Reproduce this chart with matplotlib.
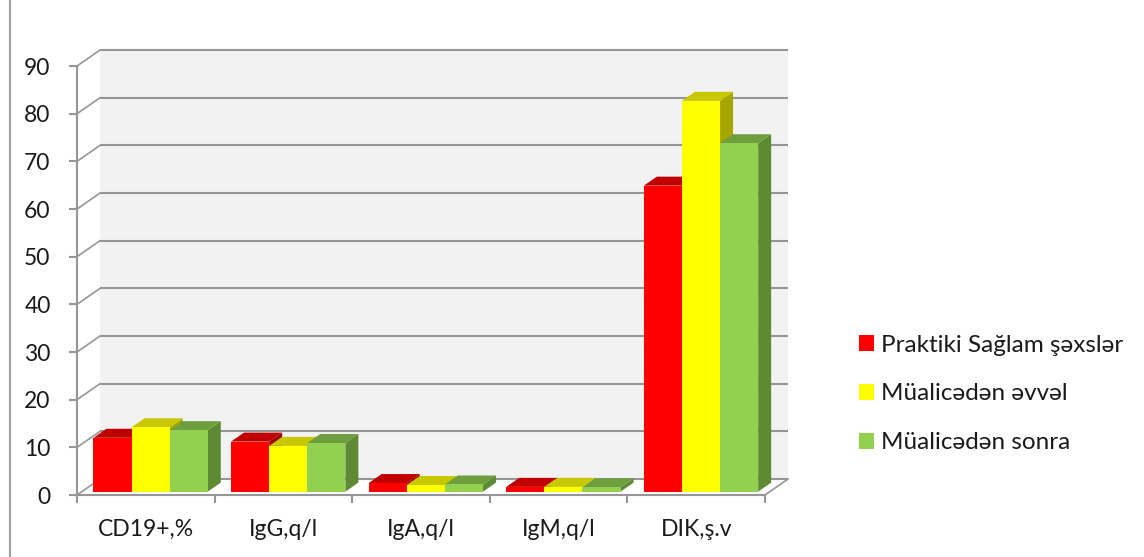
import matplotlib
matplotlib.use("Agg")
import matplotlib.pyplot as plt
from matplotlib.patches import Polygon, Patch
from matplotlib.lines import Line2D
import numpy as np

plt.rcParams['font.family'] = ['Lato', 'DejaVu Sans']

categories = ['CD19+,%', 'IgG,q/l', 'IgA,q/l', 'IgM,q/l', 'DIK,ş.v']
series_names = ['Praktiki Sağlam şəxslər', 'Müalicədən əvvəl', 'Müalicədən sonra']
healthy = [11.3, 10.5, 1.8, 1.0, 64.2]
before = [13.5, 9.6, 1.4, 1.0, 82.0]
after = [12.9, 10.2, 1.5, 0.9, 73.1]
yticks = list(range(0, 100, 10))

# front, top and side shades for each series
shades = [('#ff0000', '#c00000', '#a00000'),
          ('#ffff00', '#c8c800', '#a6a600'),
          ('#92d050', '#6e9e3e', '#5e8a33')]

# depth of the 3d box in data units (x, y)
DX, DY = 0.167, 3.35
bar_w = 0.277
gap = (1 - 3 * bar_w) / 2
d_front, d_back = 0.21, 0.775   # bar depth as fraction of floor depth
grid_c = '#969696'

fig = plt.figure(figsize=(11.44, 5.57), dpi=100)
W, H = 1144, 557
ax = fig.add_axes([77 / W, 62 / H, 715.5 / W, 448 / H])
ax.set_xlim(0, 5.2)
ax.set_ylim(0, 94)

# back wall and side wall grid
ax.add_patch(Polygon([(DX, DY), (5 + DX, DY), (5 + DX, 90 + DY), (DX, 90 + DY)],
                     closed=True, facecolor='#f2f2f2', edgecolor='none', zorder=0))
for t in yticks:
    ax.plot([DX, 5 + DX], [t + DY, t + DY], color=grid_c, lw=1.5, zorder=1,
            solid_capstyle='butt')
    ax.plot([0, DX], [t, t + DY], color=grid_c, lw=1.2, zorder=1)
# floor right edge
ax.plot([5, 5 + DX], [0, DY], color=grid_c, lw=1.2, zorder=1)

def draw_bar(x0, h, cols):
    fx, fy = d_front * DX, d_front * DY
    bx, by = d_back * DX, d_back * DY
    x1 = x0 + bar_w
    side = [(x1 + fx, fy), (x1 + bx, by), (x1 + bx, h + by), (x1 + fx, h + fy)]
    top = [(x0 + fx, h + fy), (x1 + fx, h + fy), (x1 + bx, h + by), (x0 + bx, h + by)]
    front = [(x0 + fx, fy), (x1 + fx, fy), (x1 + fx, h + fy), (x0 + fx, h + fy)]
    ax.add_patch(Polygon(side, closed=True, facecolor=cols[2], edgecolor='none', zorder=3))
    ax.add_patch(Polygon(top, closed=True, facecolor=cols[1], edgecolor='none', zorder=3))
    ax.add_patch(Polygon(front, closed=True, facecolor=cols[0], edgecolor='none', zorder=3))

series = [healthy, before, after]
for i in range(len(categories)):
    for j, vals in enumerate(series):
        draw_bar(i + gap + j * bar_w, vals[i], shades[j])

# axes styling
for s in ['top', 'right']:
    ax.spines[s].set_visible(False)
ax.spines['left'].set_bounds(0, 90)
ax.spines['bottom'].set_bounds(0, 5)
for s in ['left', 'bottom']:
    ax.spines[s].set_color(grid_c)
    ax.spines[s].set_linewidth(1.5)
ax.set_yticks(yticks)
ax.set_yticklabels([str(t) for t in yticks])
ax.set_xticks(range(6))
ax.set_xticklabels([])
ax.set_xticks(np.arange(len(categories)) + 0.5, minor=True)
ax.set_xticklabels(categories, minor=True)
ax.tick_params(axis='y', length=6, width=1.5, color=grid_c, pad=13,
               labelsize=16.5, labelcolor='#1a1a1a')
ax.tick_params(axis='x', which='major', length=6, width=1.5, color=grid_c)
ax.tick_params(axis='x', which='minor', length=0, pad=17,
               labelsize=16.5, labelcolor='#1a1a1a')

# thin frame line on the far left
fig.add_artist(Line2D([9.5 / W, 9.5 / W], [0, 1], color='#a0a0a0', lw=1.5))

handles = [Patch(facecolor=c[0], edgecolor='none') for c in shades]
fig.legend(handles, series_names, loc='center left',
           bbox_to_anchor=(859 / W, 1 - 394 / H), frameon=False, fontsize=17.5,
           handlelength=0.6, handleheight=0.6, handletextpad=0.3,
           labelspacing=1.15, borderpad=0, borderaxespad=0,
           labelcolor='#1a1a1a')

fig.savefig('out.png', dpi=100)
